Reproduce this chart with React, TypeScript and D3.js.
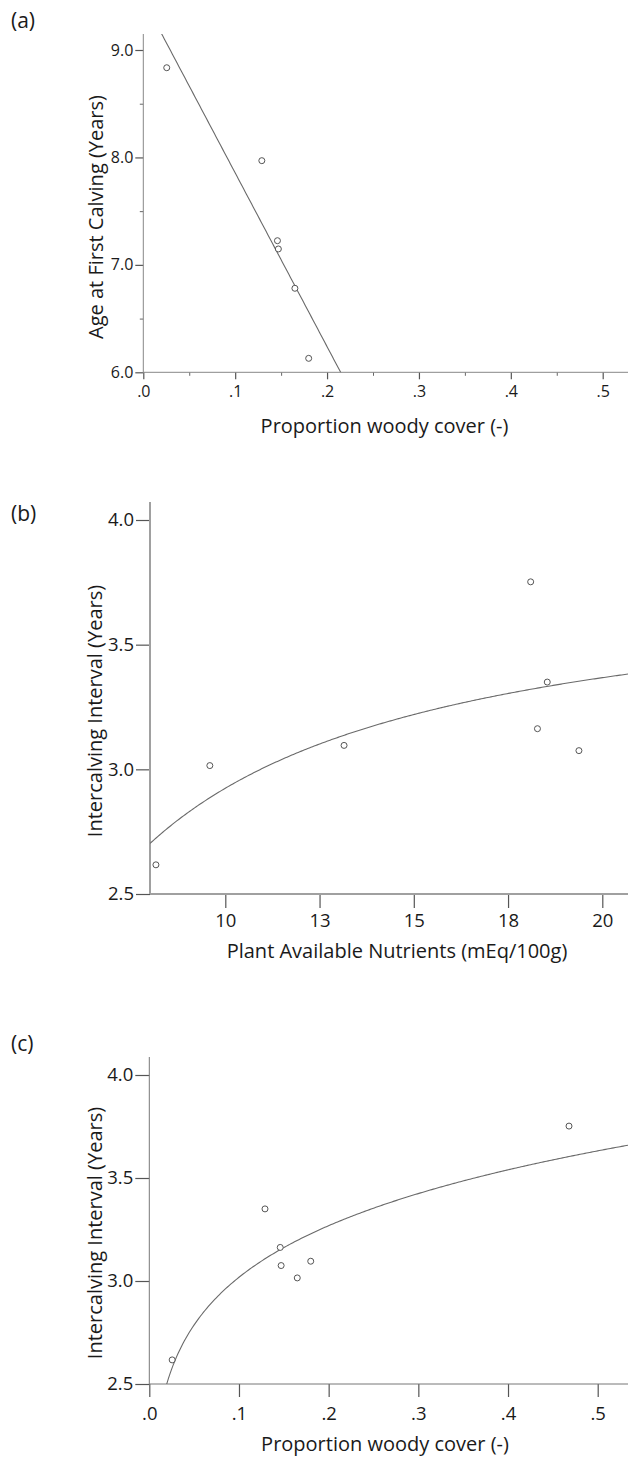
import { useEffect, useRef } from "react";
import * as d3 from "d3";

const WIDTH = 628;
const HEIGHT = 1458;
const FONT = "'Open Sans', 'DejaVu Sans', sans-serif";

// site values (same 7 sites in every panel)
const woodyCover = [0.0255, 0.129, 0.146, 0.147, 0.165, 0.18, 0.468];
const nutrients = [8.16, 18.54, 18.28, 19.38, 9.59, 13.15, 18.1];
const intercalving = [2.617, 3.35, 3.163, 3.075, 3.015, 3.096, 3.752];
const ageFirstCalving = [8.835, 7.97, 7.225, 7.148, 6.782, 6.13, NaN]; // last site has no AFC

// ticks
const woodyTicks = [0, 0.1, 0.2, 0.3, 0.4, 0.5];
const woodyMinorTicks = [0.05, 0.15, 0.25, 0.35, 0.45];
const afcTicks = [6, 7, 8, 9];
const afcMinorTicks = [6.5, 7.5, 8.5];
const nutrientTicks = [10, 12.5, 15, 17.5, 20];
const nutrientTickLabels = ["10", "13", "15", "18", "20"];
const iciTicks = [2.5, 3.0, 3.5, 4.0];

// fitted curves
const afcFit = { b0: 9.473, b1: -16.17 }; // linear
const iciNutrientFit = { b0: 3.811, b1: -8.869 }; // inverse  y = b0 + b1/x
const iciWoodyFit = { b0: 3.933, b1: 0.115 }; // power    y = b0 * x^b1

const woodyFmt = (d: number) => d3.format(".1f")(d).replace(/^0/, "");

const PANELS = [
  {
    label: "(a)",
    labelY: 28,
    xs: woodyCover,
    ys: ageFirstCalving,
    fit: (x: number) => afcFit.b0 + afcFit.b1 * x,
    xDomain: [0, 0.5],
    xRange: [143.3, 602.7],
    yDomain: [6, 9],
    yRange: [372.3, 50],
    axisTop: 34,
    xTicks: woodyTicks,
    xMinor: woodyMinorTicks,
    xFmt: (d: number) => woodyFmt(d),
    yTicks: afcTicks,
    yMinor: afcMinorTicks,
    yFmt: d3.format(".1f"),
    tickSize: 7,
    yTickSize: 8,
    xPad: 6.3,
    yPad: 2,
    tickFont: 16,
    axisColor: "#888",
    axisWidth: 1,
    xTitle: "Proportion woody cover (-)",
    xTitleX: 384.5,
    xTitleY: 432.5,
    yTitle: "Age at First Calving (Years)",
    yTitleX: 103,
    yTitleY: 217,
  },
  {
    label: "(b)",
    labelY: 521,
    xs: nutrients,
    ys: intercalving,
    fit: (x: number) => iciNutrientFit.b0 + iciNutrientFit.b1 / x,
    xDomain: [10, 20],
    xRange: [225.3, 602.3],
    yDomain: [2.5, 4.0],
    yRange: [894, 520],
    axisTop: 502,
    xTicks: nutrientTicks,
    xMinor: [] as number[],
    xFmt: (d: number) => nutrientTickLabels[nutrientTicks.indexOf(d)],
    yTicks: iciTicks,
    yMinor: [] as number[],
    yFmt: d3.format(".1f"),
    tickSize: 14,
    yTickSize: 14,
    xPad: 6,
    yPad: 2,
    tickFont: 18.5,
    axisColor: "#a0a0a0",
    axisWidth: 2,
    xTitle: "Plant Available Nutrients (mEq/100g)",
    xTitleX: 397,
    xTitleY: 958,
    yTitle: "Intercalving Interval (Years)",
    yTitleX: 102,
    yTitleY: 711,
  },
  {
    label: "(c)",
    labelY: 1051,
    xs: woodyCover,
    ys: intercalving,
    fit: (x: number) => iciWoodyFit.b0 * Math.pow(x, iciWoodyFit.b1),
    xDomain: [0, 0.5],
    xRange: [149.3, 597.7],
    yDomain: [2.5, 4.0],
    yRange: [1384, 1075],
    axisTop: 1057,
    xTicks: woodyTicks,
    xMinor: [] as number[],
    xFmt: (d: number) => woodyFmt(d),
    yTicks: iciTicks,
    yMinor: [] as number[],
    yFmt: d3.format(".1f"),
    tickSize: 13,
    yTickSize: 14,
    xPad: 10,
    yPad: 2,
    tickFont: 18.5,
    axisColor: "#777",
    axisWidth: 1,
    xTitle: "Proportion woody cover (-)",
    xTitleX: 385,
    xTitleY: 1450.5,
    yTitle: "Intercalving Interval (Years)",
    yTitleX: 102,
    yTitleY: 1233,
  },
];

const App = () => {
  const svgRef = useRef<SVGSVGElement | null>(null);

  useEffect(() => {
    const svg = d3.select(svgRef.current);
    svg.selectAll("*").remove();

    PANELS.forEach((p, i) => {
      const g = svg.append("g");
      const x = d3.scaleLinear().domain(p.xDomain).range(p.xRange);
      const y = d3.scaleLinear().domain(p.yDomain).range(p.yRange);
      const left = x(p.xDomain[0]) - (p.xDomain[0] === 0 ? 0 : 0);
      const axisLeftPx = i === 1 ? 150 : left;
      const bottom = y(p.yDomain[0]);

      // clip for the fit line
      g.append("clipPath")
        .attr("id", `clip-${i}`)
        .append("rect")
        .attr("x", axisLeftPx)
        .attr("y", p.axisTop)
        .attr("width", WIDTH - axisLeftPx)
        .attr("height", bottom - p.axisTop);

      // x axis
      const xAxis = d3
        .axisBottom(x)
        .tickValues(p.xTicks)
        .tickSize(p.tickSize)
        .tickPadding(p.xPad)
        .tickFormat((d) => p.xFmt(d as number));
      const xg = g.append("g").attr("transform", `translate(0,${bottom})`).call(xAxis as any);
      xg.select(".domain").remove();

      if (p.xMinor.length) {
        const xm = g
          .append("g")
          .attr("transform", `translate(0,${bottom})`)
          .call(d3.axisBottom(x).tickValues(p.xMinor).tickSize(3.5).tickFormat(() => "") as any);
        xm.select(".domain").remove();
        xm.selectAll("line").attr("stroke", "#666");
      }

      // y axis
      const yAxis = d3
        .axisLeft(y)
        .tickValues(p.yTicks)
        .tickSize(p.yTickSize)
        .tickPadding(p.yPad)
        .tickFormat((d) => p.yFmt(d as number));
      const yg = g.append("g").attr("transform", `translate(${axisLeftPx},0)`).call(yAxis as any);
      yg.select(".domain").remove();

      if (p.yMinor.length) {
        const ym = g
          .append("g")
          .attr("transform", `translate(${axisLeftPx},0)`)
          .call(d3.axisLeft(y).tickValues(p.yMinor).tickSize(3.5).tickFormat(() => "") as any);
        ym.select(".domain").remove();
        ym.selectAll("line").attr("stroke", "#666");
      }

      [xg, yg].forEach((ax) => {
        ax.selectAll("line").attr("stroke", "#555").attr("stroke-width", 1.2);
        ax.selectAll("text")
          .attr("fill", "#1a1a1a")
          .style("font-family", FONT)
          .style("font-size", `${p.tickFont}px`);
      });

      // axis lines
      g.append("line")
        .attr("x1", axisLeftPx)
        .attr("x2", WIDTH)
        .attr("y1", bottom)
        .attr("y2", bottom)
        .attr("stroke", p.axisColor)
        .attr("stroke-width", p.axisWidth);
      g.append("line")
        .attr("x1", axisLeftPx)
        .attr("x2", axisLeftPx)
        .attr("y1", p.axisTop)
        .attr("y2", bottom)
        .attr("stroke", p.axisColor)
        .attr("stroke-width", p.axisWidth);

      // fit curve
      const x0 = x.invert(axisLeftPx);
      const x1 = x.invert(WIDTH);
      const fitXs = d3.range(0, 301).map((k) => Math.max(x0 + ((x1 - x0) * k) / 300, 1e-4));
      const line = d3
        .line<number>()
        .x((d) => x(d))
        .y((d) => y(p.fit(d)));
      g.append("path")
        .datum(fitXs)
        .attr("clip-path", `url(#clip-${i})`)
        .attr("d", line)
        .attr("fill", "none")
        .attr("stroke", "#6a6a6a")
        .attr("stroke-width", 1.1);

      // points
      const pts = p.xs
        .map((xv, k) => ({ xv, yv: p.ys[k] }))
        .filter((d) => !isNaN(d.yv));
      g.selectAll("circle.pt")
        .data(pts)
        .join("circle")
        .attr("class", "pt")
        .attr("cx", (d) => x(d.xv))
        .attr("cy", (d) => y(d.yv))
        .attr("r", 3)
        .attr("fill", "white")
        .attr("stroke", "#555")
        .attr("stroke-width", 1);

      // titles
      g.append("text")
        .attr("x", p.xTitleX)
        .attr("y", p.xTitleY)
        .attr("text-anchor", "middle")
        .attr("fill", "#1a1a1a")
        .style("font-family", FONT)
        .style("font-size", "20px")
        .text(p.xTitle);
      g.append("text")
        .attr("transform", `translate(${p.yTitleX},${p.yTitleY}) rotate(-90)`)
        .attr("text-anchor", "middle")
        .attr("fill", "#1a1a1a")
        .style("font-family", FONT)
        .style("font-size", "20px")
        .text(p.yTitle);
      g.append("text")
        .attr("x", 11)
        .attr("y", p.labelY)
        .attr("fill", "#1a1a1a")
        .style("font-family", FONT)
        .style("font-size", "21px")
        .text(p.label);
    });
  }, []);

  return (
    <div style={{ position: "absolute", left: 0, top: 0, width: WIDTH, height: HEIGHT, background: "white" }}>
      <svg ref={svgRef} width={WIDTH} height={HEIGHT} />
    </div>
  );
};

export default App;
